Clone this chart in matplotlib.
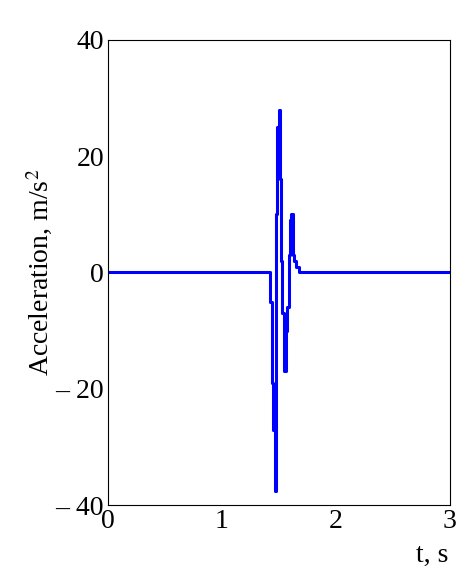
import matplotlib
matplotlib.use("Agg")
import matplotlib.pyplot as plt

# acceleration trace
t = [0, 1.42, 1.425, 1.435, 1.445, 1.465, 1.47, 1.485, 1.50, 1.51, 1.52, 1.53,
     1.545, 1.56, 1.57, 1.585, 1.60, 1.61, 1.62, 1.635, 1.65, 1.68, 3.0]
acc = [0, 0, -5, -19, -27, -37.5, 10, 25, 28, 16, 2, -7,
       -17, -10, -6, 3, 9, 10, 3, 2, 1, 0, 0]
xticks = [0, 1, 2, 3]
yticks = [-40, -20, 0, 20, 40]
ylabels = ["\u2013 40", "\u2013 20", "0", "20", "40"]

plt.rcParams["font.family"] = ["Liberation Serif", "DejaVu Serif"]
plt.rcParams["mathtext.fontset"] = "stix"
fig = plt.figure(figsize=(4.74, 5.76), dpi=100)
ax = fig.add_axes([0.228, 0.123, 0.721, 0.808])
ax.plot(t, acc, color="#0000ff", lw=2.2, drawstyle="steps-post")
ax.set_xlim(0, 3)
ax.set_ylim(-40, 40)
ax.set_xticks(xticks)
ax.set_yticks(yticks)
ax.set_yticklabels(ylabels)
ax.tick_params(length=0, labelsize=20, pad=3)
for s in ax.spines.values():
    s.set_linewidth(0.8)
ax.set_ylabel("Acceleration, m/s$^2$", fontsize=20, labelpad=0)
fig.text(0.945, 0.025, "t, s", fontsize=20, ha="right")
fig.savefig("out.png", dpi=100)
